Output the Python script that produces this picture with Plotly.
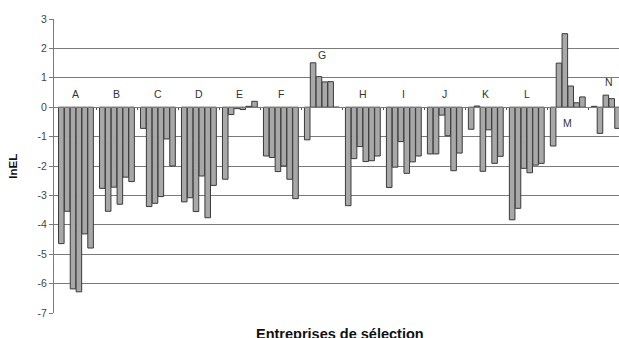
import plotly.graph_objects as go

groups = ["A", "B", "C", "D", "E", "F", "G", "H", "I", "J", "K", "L", "M", "N"]

vals_A = [-4.64, -3.54, -6.18, -6.28, -4.31, -4.79]
vals_B = [-2.76, -3.54, -2.72, -3.30, -2.38, -2.53]
vals_C = [-0.72, -3.38, -3.27, -3.04, -1.08, -2.00]
vals_D = [-3.22, -3.08, -3.55, -2.34, -3.76, -2.66]
vals_E = [-2.45, -0.25, -0.05, -0.08, 0.03, 0.20]
vals_F = [-1.66, -1.71, -2.19, -2.00, -2.45, -3.11]
vals_G = [-1.11, 1.51, 1.04, 0.86, 0.87, 0.0]
vals_H = [-3.35, -1.75, -1.34, -1.85, -1.82, -1.66]
vals_I = [-2.73, -2.04, -1.17, -2.25, -1.86, -1.66]
vals_J = [-1.59, -1.59, -0.27, -0.97, -2.16, -1.56]
vals_K = [-0.75, 0.04, -2.18, -0.77, -1.91, -1.67]
vals_L = [-3.83, -3.44, -2.08, -2.23, -1.97, -1.91]
vals_M = [-1.32, 1.50, 2.50, 0.72, 0.15, 0.35]
vals_N = [0.03, -0.89, 0.41, 0.29, -0.72]

group_values = [vals_A, vals_B, vals_C, vals_D, vals_E, vals_F, vals_G,
                vals_H, vals_I, vals_J, vals_K, vals_L, vals_M, vals_N]

# height of each group letter label (in lnEL units)
label_heights = [0.46, 0.46, 0.46, 0.46, 0.46, 0.46, 1.77,
                 0.46, 0.46, 0.46, 0.46, 0.46, -0.54, 0.87]

y_ticks = [3, 2, 1, 0, -1, -2, -3, -4, -5, -6, -7]

SLOTS = 7  # 6 companies + one empty slot per group

xs, ys = [], []
for gi, vals in enumerate(group_values):
    for j, v in enumerate(vals):
        xs.append(gi * SLOTS + j)
        ys.append(v)

fig = go.Figure()
fig.add_trace(go.Bar(
    x=xs, y=ys,
    marker=dict(color="#a8a8a8", line=dict(color="#3a3a3a", width=1)),
    width=0.95,
    hoverinfo="skip",
))

annotations = []
for gi, (g, h) in enumerate(zip(groups, label_heights)):
    annotations.append(dict(
        x=gi * SLOTS + 2.5, y=h, xref="x", yref="y", text=g, showarrow=False,
        font=dict(family="Liberation Sans, Arial", size=10.5, color="#333333"),
        xanchor="center", yanchor="middle",
    ))

annotations.append(dict(
    x=0.506, y=-0.072, xref="paper", yref="paper",
    text="<b>Entreprises de sélection</b>", showarrow=False,
    font=dict(family="Liberation Sans, Arial", size=14.5, color="#111111"),
    xanchor="center", yanchor="middle",
))
annotations.append(dict(
    x=-0.073, y=0.5, xref="paper", yref="paper",
    text="<b>lnEL</b>", showarrow=False, textangle=-90,
    font=dict(family="Liberation Sans, Arial", size=11.5, color="#111111"),
    xanchor="center", yanchor="middle",
))

fig.update_layout(
    width=619, height=338,
    margin=dict(l=54, r=0, t=19, b=25),
    paper_bgcolor="white", plot_bgcolor="white",
    showlegend=False,
    bargap=0.05,
    annotations=annotations,
    xaxis=dict(
        range=[-1.25, 95.25],
        anchor="free", position=0.7,
        showgrid=False, zeroline=False,
        showline=True, linecolor="#7a7a7a", linewidth=1,
        tickmode="array",
        tickvals=[gi * SLOTS + 6 for gi in range(len(groups) - 1)],
        ticks="outside", ticklen=2, tickcolor="#555555", tickwidth=1,
        showticklabels=False,
    ),
    yaxis=dict(
        range=[-7, 3],
        tickmode="array", tickvals=y_ticks, ticktext=[str(t) for t in y_ticks],
        showgrid=True, gridcolor="#7a7a7a", gridwidth=1,
        zeroline=False,
        showline=True, linecolor="#7a7a7a", linewidth=1,
        ticks="outside", ticklen=4, tickcolor="#7a7a7a",
        tickfont=dict(family="Liberation Sans, Arial", size=10.5, color="#444444"),
    ),
)

fig.write_html(
    "out.html",
    config={"displayModeBar": False, "staticPlot": True},
    post_script="document.body.style.margin='0';document.body.style.overflow='hidden';",
)
